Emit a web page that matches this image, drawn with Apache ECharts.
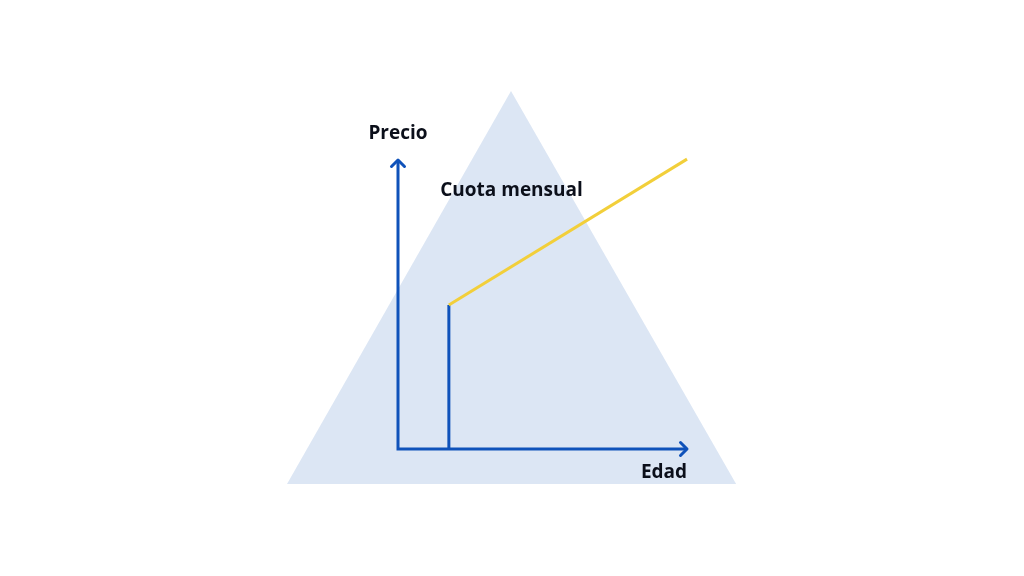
<!DOCTYPE html>
<html><head><meta charset="utf-8">
<script src="https://cdn.jsdelivr.net/npm/echarts@6/dist/echarts.min.js"></script>
<style>html,body{margin:0;padding:0;background:#fff}#c{width:1024px;height:576px}</style>
</head><body><div id="c"></div>
<script>
// Conceptual data (arbitrary units: Edad on x, Precio on y)
const triangle = [[-38.4, -12.1], [39.1, 123.9], [117.0, -12.1]];
const axisEnds = { origin: [0, 0], xEnd: [100, 0], yEnd: [0, 100] };
const stepLine = [[17.6, 0], [17.6, 49.8]];
const cuotaLine = [[17.6, 49.8], [100, 100.3]];
const labels = { y: 'Precio', x: 'Edad', series: 'Cuota mensual' };

const BLUE = '#0f52ba', YELLOW = '#f2cf3a', TRI = '#dce6f4', TXT = '#0b0f1a';
const chart = echarts.init(document.getElementById('c'));
const font = '"Open Sans", "Noto Sans", sans-serif';

chart.setOption({
  animation: false,
  grid: { left: 282.4, top: 73.3, width: 491.3, height: 433.5 },
  xAxis: { type: 'value', min: -40, max: 130, show: false },
  yAxis: { type: 'value', min: -20, max: 130, show: false },
  series: [
    {
      type: 'custom', z: 1, silent: true,
      data: [0],
      renderItem: function (params, api) {
        return { type: 'polygon', shape: { points: triangle.map(p => api.coord(p)) }, style: { fill: TRI } };
      }
    },
    {
      type: 'line', z: 3, data: stepLine, symbol: 'none', silent: true,
      lineStyle: { color: BLUE, width: 3 }
    },
    {
      type: 'line', z: 3, data: cuotaLine, symbol: 'none', silent: true,
      lineStyle: { color: YELLOW, width: 3 }
    },
    {
      type: 'custom', z: 4, silent: true, data: [0],
      renderItem: function (params, api) {
        const o = api.coord(axisEnds.origin), xe = api.coord(axisEnds.xEnd), ye = api.coord(axisEnds.yEnd);
        const a = 6.5;
        const ls = { stroke: BLUE, lineWidth: 3, fill: null, lineJoin: 'round', lineCap: 'round' };
        return { type: 'group', children: [
          { type: 'polyline', shape: { points: [ye, o, xe] }, style: Object.assign({}, ls, { lineCap: 'butt', lineJoin: 'miter' }) },
          { type: 'polyline', shape: { points: [[xe[0] - a, xe[1] - a], xe, [xe[0] - a, xe[1] + a]] }, style: ls },
          { type: 'polyline', shape: { points: [[ye[0] - a, ye[1] + a], ye, [ye[0] + a, ye[1] + a]] }, style: ls },
          { type: 'text', x: ye[0], y: ye[1] - 26, style: { text: labels.y, font: 'bold 19px ' + font, fill: TXT, align: 'center', verticalAlign: 'middle' } },
          { type: 'text', x: xe[0] - 23, y: xe[1] + 24, style: { text: labels.x, font: 'bold 19px ' + font, fill: TXT, align: 'center', verticalAlign: 'middle' } },
          { type: 'text', x: 511.5, y: 191, style: { text: labels.series, font: 'bold 19px ' + font, fill: TXT, align: 'center', verticalAlign: 'middle' } }
        ]};
      }
    }
  ]
});
</script></body></html>
